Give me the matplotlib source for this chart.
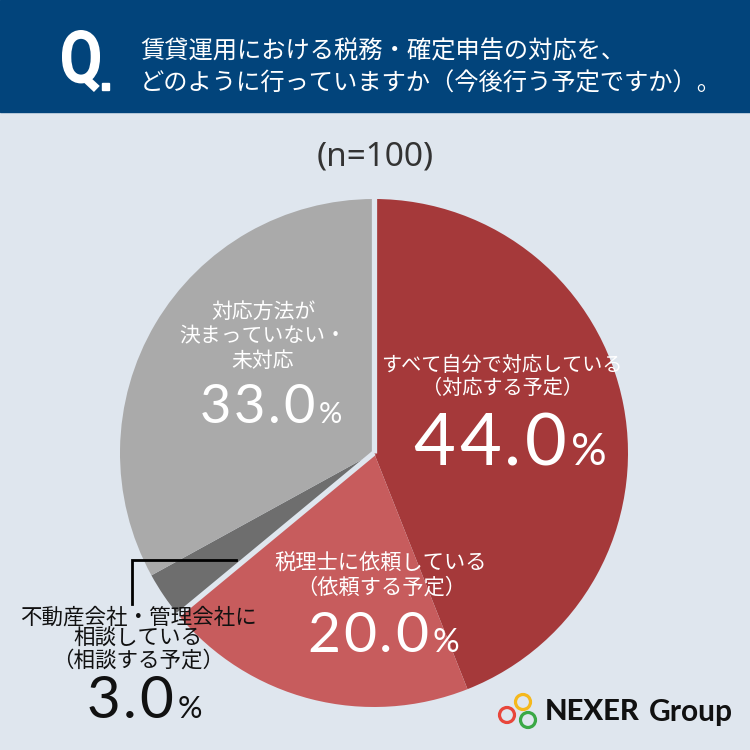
import numpy as np
import matplotlib
matplotlib.use("Agg")
import matplotlib.pyplot as plt
from matplotlib.patches import Rectangle, Circle, PathPatch
from matplotlib.textpath import TextPath
from matplotlib.font_manager import FontProperties
from matplotlib.transforms import Affine2D

plt.rcParams['font.family'] = ['Noto Sans CJK JP', 'DejaVu Sans']

# ---- data ----
title_lines = ["賃貸運用における税務・確定申告の対応を、",
               "どのように行っていますか（今後行う予定ですか）。"]
n_label = "(n=100)"
categories = ["すべて自分で対応している\n（対応する予定）",
              "税理士に依頼している\n（依頼する予定）",
              "不動産会社・管理会社に\n相談している\n（相談する予定）",
              "対応方法が\n決まっていない・\n未対応"]
values = [44.0, 20.0, 3.0, 33.0]
colors = ["#a5393a", "#c75c5d", "#6e6e6e", "#aaaaaa"]
group_breaks = [0, 2]  # gaps before slice 0 and before slice 2

BG = "#dfe6ee"
HEAD = "#02447b"

fig = plt.figure(figsize=(7.5, 7.5), dpi=100, facecolor=BG)
renderer = fig.canvas.get_renderer()

# pie (drawn underneath)
cx, cy, r = 374, 453, 254
axp = fig.add_axes([(cx - r) / 750, (750 - cy - r) / 750, 2 * r / 750, 2 * r / 750])
axp.set_zorder(0)
axp.pie(values, colors=colors, startangle=90, counterclock=False, radius=1,
        wedgeprops=dict(linewidth=0))
axp.set_xlim(-1.0, 1.0)
axp.set_ylim(-1.0, 1.0)
axp.set_aspect("equal")
axp.axis("off")
axp.patch.set_alpha(0)
frac = np.concatenate([[0], np.cumsum(values)]) / np.sum(values)
for i in group_breaks:
    ang = np.deg2rad(90 - 360 * frac[i])
    axp.plot([0, 1.05 * np.cos(ang)], [0, 1.05 * np.sin(ang)], color=BG, lw=3.8,
             solid_capstyle="butt", zorder=5)

# overlay axes in pixel coordinates
ax = fig.add_axes([0, 0, 1, 1])
ax.set_zorder(1)
ax.set_xlim(0, 750)
ax.set_ylim(750, 0)
ax.axis("off")
ax.patch.set_alpha(0)

# header
ax.add_patch(Rectangle((0, 0), 750, 112, color=HEAD, zorder=1))
qpath = TextPath((0, 0), "Q", size=1, prop=FontProperties(family="Roboto", weight="bold"))
ext = qpath.get_extents()
sx = 38 / ext.width
sy = 62 / ext.height
tr = Affine2D().translate(-ext.x0, -ext.y1).scale(sx, -sy).translate(62, 30) + ax.transData
ax.add_patch(PathPatch(qpath, facecolor="white", edgecolor="none", transform=tr, zorder=2))
ax.add_patch(Rectangle((102, 83), 7, 7, color="white", zorder=2))
ax.text(140, 52, title_lines[0], color="white", fontsize=17.5, va="center", ha="left", zorder=3)
ax.text(140, 84, title_lines[1], color="white", fontsize=17.5, va="center", ha="left", zorder=3)

ax.text(375, 157, n_label, color="#333333", fontsize=24, ha="center", va="center",
        family=["Noto Sans", "DejaVu Sans"])

# labels
num_font = ["Lato", "DejaVu Sans"]
def label(x, y, text, size, color, lsp=1.15):
    ax.text(x, y, text, color=color, fontsize=size, ha="center", va="center",
            linespacing=lsp, zorder=6)

def number(xc, ybase, val, size, color, pct_size, track_em=0.05, gap=4):
    chars = list(f"{val:.1f}") + ["%"]
    sizes = [size] * (len(chars) - 1) + [pct_size]
    texts = [ax.text(0, ybase, ch, color=color, fontsize=s, ha="left",
                     va="baseline", family=num_font, zorder=6)
             for ch, s in zip(chars, sizes)]
    widths = [t.get_window_extent(renderer).width for t in texts]
    track = track_em * size * 100 / 72
    steps = [track] * (len(chars) - 2) + [gap]
    total = sum(widths) + sum(steps)
    x = xc - total / 2
    for i, (t, w) in enumerate(zip(texts, widths)):
        t.set_x(x)
        if i < len(steps):
            x += w + steps[i]

label(502, 377, categories[0], 14.5, "white")
number(510, 465, values[0], 52, "white", 32)

label(381, 575, categories[1], 15.3, "white")
number(383, 652, values[1], 41, "white", 24)

label(263, 336, categories[3], 15, "white")
number(271, 423, values[3], 39, "white", 21)

label(138, 639, categories[2], 15.5, "#111111", 0.95)
number(144, 718, values[2], 42, "#111111", 22)

# leader
ax.plot([132, 132, 236], [604, 560, 560], color="black", lw=2, solid_joinstyle="miter", zorder=6)

# logo
for (x, y, c) in [(507, 715, "#e8463b"), (523, 702, "#f5b81c"), (528, 720, "#3aa845")]:
    ax.add_patch(Circle((x, y), 7.5, fill=False, edgecolor=c, lw=2.3, zorder=6))
ax.text(545, 712, "NEXER", fontsize=21, fontweight="black", color="#111111",
        va="center", ha="left", family=["Lato", "DejaVu Sans"])
ax.text(649, 712, "Group", fontsize=21.5, fontweight="bold", color="#111111",
        va="center", ha="left", family=["Lato", "DejaVu Sans"])

fig.savefig("out.png", dpi=100, facecolor=BG)
